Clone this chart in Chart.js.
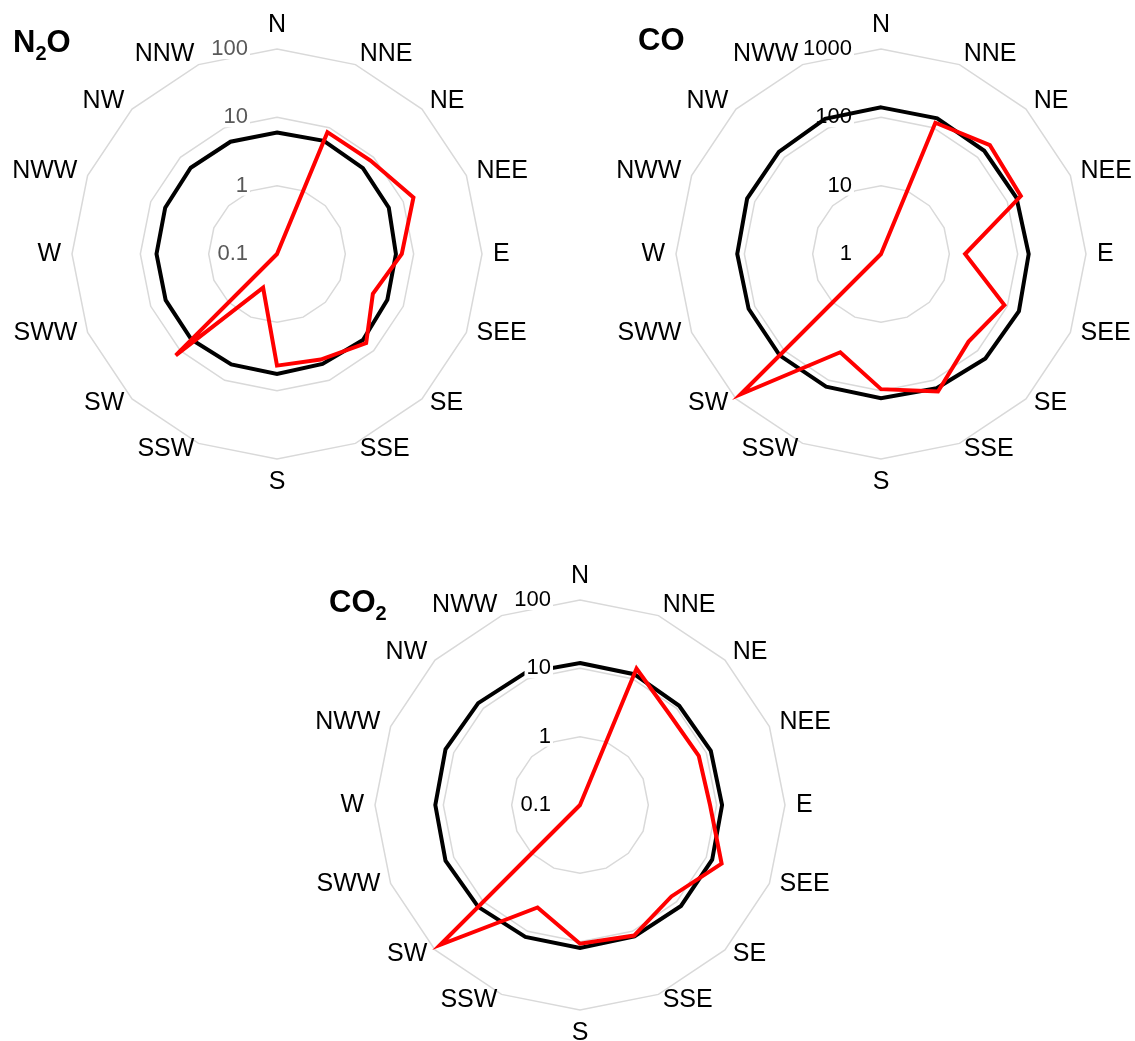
<!DOCTYPE html>
<html>
<head>
<meta charset="utf-8">
<title>Wind-direction radar plots: N2O, CO, CO2</title>
<script src="https://cdn.jsdelivr.net/npm/chart.js@4.4.1/dist/chart.umd.min.js"></script>
<style>
  html, body { margin: 0; padding: 0; background: #fff; }
  body { width: 1135px; height: 1041px; position: relative; overflow: hidden;
         font-family: "Liberation Sans", Arial, sans-serif; }
  canvas { position: absolute; }
  .ttl { position: absolute; font-weight: bold; font-size: 31px; line-height: 31px;
         color: #000; white-space: nowrap; }
  .ttl sub { font-size: 20px; line-height: 0; vertical-align: -8px; }
</style>
</head>
<body>
<canvas id="chartN2O" width="560" height="520" style="left:0px;top:0px"></canvas>
<canvas id="chartCO" width="565" height="520" style="left:570px;top:0px"></canvas>
<canvas id="chartCO2" width="560" height="501" style="left:290px;top:540px"></canvas>

<div class="ttl" style="left:13px;top:26px">N<sub>2</sub>O</div>
<div class="ttl" style="left:638px;top:24px">CO</div>
<div class="ttl" style="left:329px;top:586px">CO<sub>2</sub></div>

<script>
// ---- Wind sectors (clockwise from north) ----
const directionsN2O = ['N', 'NNE', 'NE', 'NEE', 'E', 'SEE', 'SE', 'SSE', 'S', 'SSW', 'SW', 'SWW', 'W', 'NWW', 'NW', 'NNW'];
const directionsCO  = ['N', 'NNE', 'NE', 'NEE', 'E', 'SEE', 'SE', 'SSE', 'S', 'SSW', 'SW', 'SWW', 'W', 'NWW', 'NW', 'NWW'];
const directionsCO2 = ['N', 'NNE', 'NE', 'NEE', 'E', 'SEE', 'SE', 'SSE', 'S', 'SSW', 'SW', 'SWW', 'W', 'NWW', 'NW', 'NWW'];

// ---- Logarithmic ring values (innermost = centre) ----
const ticksN2O = [0.1, 1, 10, 100];
const ticksCO  = [1, 10, 100, 1000];
const ticksCO2 = [0.1, 1, 10, 100];

// ---- N2O ----
const n2oBlack = [6.0, 6.2, 6.0, 5.9, 5.5, 5.6, 6.0, 5.5, 5.7, 5.6, 5.9, 5.8, 5.8, 5.9, 6.1, 6.0];
const n2oRed   = [0.1, 8.5, 8.6, 14.5, 6.7, 3.3, 7.0, 4.7, 4.3, 0.34, 12.5, 0.1, 0.1, 0.1, 0.1, 0.1];

// ---- CO ----
const coBlack = [140, 141, 137, 140, 145, 153, 145, 134, 129, 126, 125, 125, 127, 132, 130, 138];
const coRed   = [1, 120, 179, 164, 17, 90, 65, 151, 95, 36, 800, 1, 1, 1, 1, 1];

// ---- CO2 ----
const co2Black = [12.0, 11.8, 11.3, 11.8, 12.0, 12.4, 12.3, 12.1, 12.4, 12.3, 12.8, 13.5, 13.1, 13.5, 12.8, 12.4];
const co2Red   = [0.1, 14.5, 7.3, 7.6, 8.0, 17.5, 7.8, 11.7, 10.7, 4.2, 78, 0.1, 0.1, 0.1, 0.1, 0.1];

const FONT_FAMILY = '"Liberation Sans", Arial, sans-serif';
const LABEL_FONT = '25px ' + FONT_FAMILY;
const TICK_FONT = '22px ' + FONT_FAMILY;

// Ring labels sit just left of the vertical axis, on a white backdrop.
function drawRingLabels(chart, o) {
  const s = chart.scales.r;
  const ctx = chart.ctx;
  ctx.save();
  ctx.font = TICK_FONT;
  ctx.textAlign = 'right';
  ctx.textBaseline = 'middle';
  s.ticks.forEach((t, i) => {
    const text = String(o.tickValues[i]);
    const y = s.yCenter - s.getDistanceFromCenterForValue(t.value);
    const x = s.xCenter - 29;
    const w = ctx.measureText(text).width;
    ctx.fillStyle = '#ffffff';
    ctx.fillRect(x - w - 2, y - 10, w + 4, 20);
    ctx.fillStyle = o.tickColor;
    ctx.fillText(text, x, y);
  });
  ctx.restore();
}

// Sector names around the outer ring.
function drawSectorLabels(chart) {
  const s = chart.scales.r;
  const ctx = chart.ctx;
  const R = s.drawingArea;
  ctx.save();
  ctx.font = LABEL_FONT;
  ctx.fillStyle = '#000000';
  chart.data.labels.forEach((lab, i) => {
    const deg = ((Math.round(s.getIndexAngle(i) * 180 / Math.PI) % 360) + 360) % 360;
    if (deg === 0) {
      ctx.textAlign = 'center';
      ctx.textBaseline = 'alphabetic';
      ctx.fillText(lab, s.xCenter, s.yCenter - R - 17);
    } else if (deg === 180) {
      ctx.textAlign = 'center';
      ctx.textBaseline = 'alphabetic';
      ctx.fillText(lab, s.xCenter, s.yCenter + R + 30);
    } else {
      const p = s.getPointPosition(i, R + 11);
      ctx.textAlign = deg < 180 ? 'left' : 'right';
      ctx.textBaseline = 'middle';
      const dy = (deg > 90 && deg < 270) ? -4 : 0;
      ctx.fillText(lab, p.x, p.y + dy);
    }
  });
  ctx.restore();
}

const radarDecor = {
  id: 'radarDecor',
  beforeDatasetsDraw(chart, args, o) { if (!o.ringLabelsOnTop) drawRingLabels(chart, o); },
  afterDatasetsDraw(chart, args, o) { if (o.ringLabelsOnTop) drawRingLabels(chart, o); },
  afterDraw(chart) { drawSectorLabels(chart); }
};

const RADIUS = 205;

function makeRadar(canvasId, center, labels, tickValues, black, red, tickColor, ringLabelsOnTop) {
  const canvas = document.getElementById(canvasId);
  const W = canvas.width, H = canvas.height;
  const lg = v => Math.log10(v);
  const minLog = Math.round(lg(tickValues[0]));
  const maxLog = Math.round(lg(tickValues[tickValues.length - 1]));
  return new Chart(canvas, {
    type: 'radar',
    data: {
      labels: labels,
      datasets: [
        { label: 'red', data: red.map(lg), borderColor: '#ff0000', borderWidth: 4, order: 0 },
        { label: 'black', data: black.map(lg), borderColor: '#000000', borderWidth: 4, order: 1 }
      ]
    },
    options: {
      responsive: false,
      animation: false,
      devicePixelRatio: 1,
      layout: {
        padding: {
          left: center[0] - RADIUS,
          top: center[1] - RADIUS,
          right: W - center[0] - RADIUS,
          bottom: H - center[1] - RADIUS
        }
      },
      elements: {
        line: { tension: 0, fill: false, borderJoinStyle: 'miter', borderCapStyle: 'butt' },
        point: { radius: 0, hoverRadius: 0, hitRadius: 0 }
      },
      scales: {
        r: {
          min: minLog,
          max: maxLog,
          beginAtZero: false,
          ticks: { display: false, stepSize: 1 },
          grid: {
            circular: false,
            color: '#d9d9d9',
            lineWidth: ctx => (ctx.index === 0 ? 0 : 1.5)
          },
          angleLines: { display: false },
          pointLabels: { display: false }
        }
      },
      plugins: {
        legend: { display: false },
        tooltip: { enabled: false },
        radarDecor: { tickValues: tickValues, tickColor: tickColor, ringLabelsOnTop: ringLabelsOnTop }
      }
    },
    plugins: [radarDecor]
  });
}

makeRadar('chartN2O', [277, 254], directionsN2O, ticksN2O, n2oBlack, n2oRed, '#595959', false);
makeRadar('chartCO',  [311, 254], directionsCO,  ticksCO,  coBlack,  coRed,  '#000000', false);
makeRadar('chartCO2', [290, 265], directionsCO2, ticksCO2, co2Black, co2Red, '#000000', true);
</script>
</body>
</html>
